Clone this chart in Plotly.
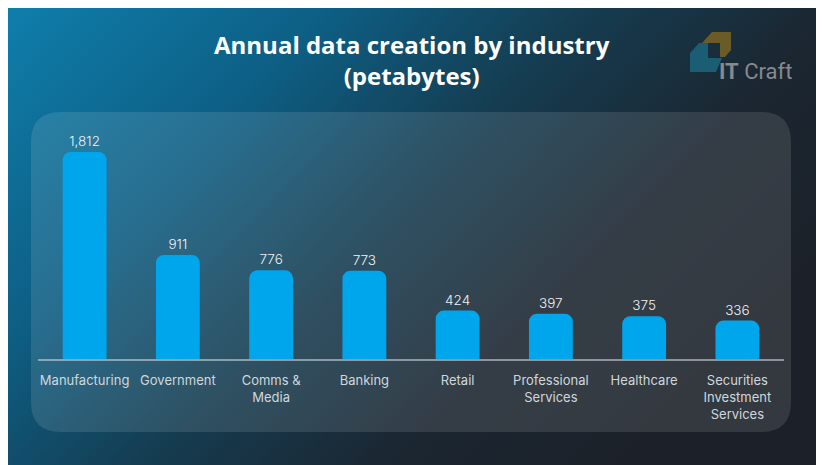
import base64
import plotly.graph_objects as go

categories = ["Manufacturing", "Government", "Comms &<br>Media", "Banking", "Retail",
              "Professional<br>Services", "Healthcare", "Securities<br>Investment<br>Services"]
values = [1812, 911, 776, 773, 424, 397, 375, 336]
title_lines = ["Annual data creation by industry", "(petabytes)"]

# page is rendered with an 8px body margin: work in page pixels
OFF = 8
PAGE_W, PAGE_H = 824, 465
FW, FH = PAGE_W - OFF, PAGE_H - OFF
PL, PR, PT, PB = 38, 784, 140, 359  # plot area in page pixels
PW, PH = PR - PL, PB - PT


def px(x):
    return (x - PL) / PW


def py(y):
    return (PB - y) / PH


svg = f'''<svg xmlns="http://www.w3.org/2000/svg" width="{FW}" height="{FH}" viewBox="0 0 {FW} {FH}">
<defs><linearGradient id="g" x1="0" y1="0" x2="1" y2="0.55">
<stop offset="0" stop-color="#0f7eab"/>
<stop offset="0.30" stop-color="#0d5f85"/>
<stop offset="0.55" stop-color="#153c50"/>
<stop offset="0.78" stop-color="#1b2631"/>
<stop offset="1" stop-color="#1c2129"/>
</linearGradient></defs>
<rect width="{FW}" height="{FH}" fill="url(#g)"/>
</svg>'''
src = "data:image/svg+xml;base64," + base64.b64encode(svg.encode()).decode()

fig = go.Figure()
fig.add_trace(go.Bar(
    x=categories, y=values,
    marker=dict(color="#00a6ec", cornerradius=8, line=dict(width=0)),
    text=values, texttemplate="%{y:,}", textposition="outside",
    textfont=dict(family="Inter", size=13.5, color="#eef3f6", weight=300),
    cliponaxis=False, hoverinfo="skip",
))


def rounded(x0, y0, x1, y1, r):
    return (f"M {px(x0 + r)},{py(y0)} L {px(x1 - r)},{py(y0)} Q {px(x1)},{py(y0)} {px(x1)},{py(y0 + r)} "
            f"L {px(x1)},{py(y1 - r)} Q {px(x1)},{py(y1)} {px(x1 - r)},{py(y1)} "
            f"L {px(x0 + r)},{py(y1)} Q {px(x0)},{py(y1)} {px(x0)},{py(y1 - r)} "
            f"L {px(x0)},{py(y0 + r)} Q {px(x0)},{py(y0)} {px(x0 + r)},{py(y0)} Z")


def poly(points):
    return "M " + " L ".join(f"{px(a)},{py(b)}" for a, b in points) + " Z"


shapes = [
    dict(type="path", xref="paper", yref="paper", path=rounded(31, 112, 791, 432, 30),
         fillcolor="rgba(255,255,255,0.11)", line=dict(width=0), layer="below"),
    dict(type="path", xref="paper", yref="paper",
         path=poly([(712, 32), (731, 32), (731, 50), (725, 57), (720, 57), (720, 43), (702, 43)]),
         fillcolor="#6b5c27", line=dict(width=0)),
    dict(type="path", xref="paper", yref="paper",
         path=poly([(699, 43), (708, 43), (708, 58), (722, 58), (716, 72), (690, 72), (690, 53)]),
         fillcolor="#1b5e73", line=dict(width=0)),
]

annotations = [
    dict(text="<br>".join(title_lines), xref="paper", yref="paper", x=px(412), y=py(60),
         xanchor="center", yanchor="middle", showarrow=False, align="center",
         font=dict(family="Open Sans", size=24, color="#ffffff", weight=700)),
    dict(text="<b>IT</b> Craft", xref="paper", yref="paper", x=px(717), y=py(71),
         xanchor="left", yanchor="middle", showarrow=False,
         font=dict(family="Roboto", size=22, color="#878a8f")),
]

fig.update_layout(
    width=FW, height=FH,
    margin=dict(l=PL - OFF, r=PAGE_W - PR, t=PT - OFF, b=PAGE_H - PB),
    paper_bgcolor="#1c2129", plot_bgcolor="rgba(0,0,0,0)",
    bargap=0.53, showlegend=False,
    shapes=shapes, annotations=annotations,
    images=[dict(source=src, xref="paper", yref="paper", x=px(OFF), y=py(OFF),
                 sizex=FW / PW, sizey=FH / PH, xanchor="left", yanchor="top",
                 sizing="stretch", layer="below")],
    xaxis=dict(showline=True, linecolor="rgba(200,210,220,0.6)", linewidth=1.5,
               showgrid=False, zeroline=False, ticks="", ticklabelstandoff=9,
               tickfont=dict(family="Inter", size=13, color="#cfd7dd"), fixedrange=True),
    yaxis=dict(visible=False, range=[0, 1812 * PH / 207], fixedrange=True),
)

fig.write_html("out.html")
